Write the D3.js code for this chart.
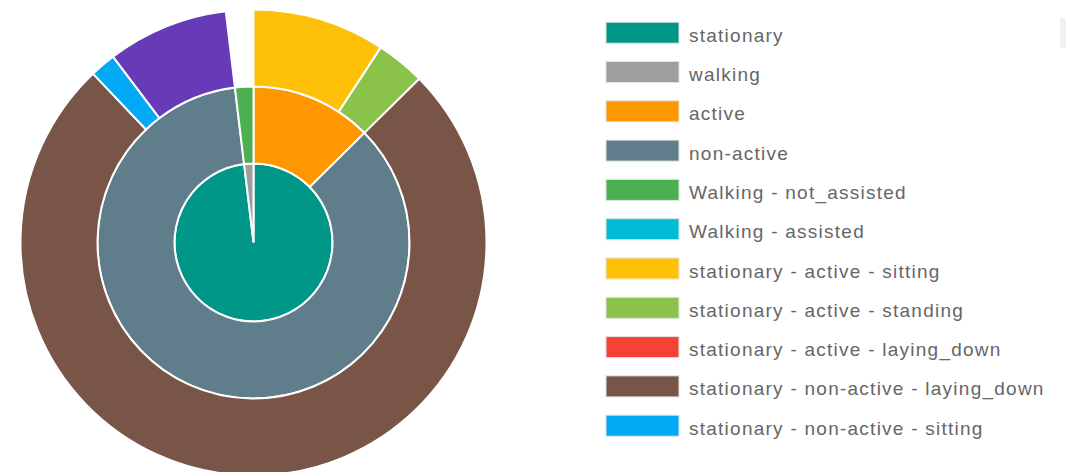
<!DOCTYPE html>
<html>
<head>
<meta charset="utf-8">
<script src="https://cdn.jsdelivr.net/npm/d3@7"></script>
<style>
  html, body { margin: 0; padding: 0; background: #fff; }
  svg { display: block; }
  .legend text { font-family: "Liberation Sans", Arial, sans-serif; font-size: 19px; fill: #666; letter-spacing: 1.25px; }
</style>
</head>
<body>
<svg id="chart" width="1074" height="472"></svg>
<script>
// Activity breakdown: movement -> activity level -> posture (share of time, %)
const groups = ["stationary", "walking"];

const subgroups      = ["active", "non-active", "Walking - not_assisted", "Walking - assisted"];
const subgroupParent = ["stationary", "stationary", "walking", "walking"];
const subgroupValue  = [0, 0, 1.9, 0]; // walking subgroups carry their own share

const postures = [
  "stationary - active - sitting",
  "stationary - active - standing",
  "stationary - active - laying_down",
  "stationary - non-active - laying_down",
  "stationary - non-active - sitting",
  "stationary - non-active - standing"
];
const postureParent = ["active", "active", "active", "non-active", "non-active", "non-active"];
const postureValue  = [9.2, 3.4, 0, 75.3, 1.8, 8.4];

const colorNames = [
  "stationary", "walking", "active", "non-active",
  "Walking - not_assisted", "Walking - assisted",
  "stationary - active - sitting", "stationary - active - standing",
  "stationary - active - laying_down", "stationary - non-active - laying_down",
  "stationary - non-active - sitting", "stationary - non-active - standing"
];
const colorValues = [
  "#009688", "#9E9E9E", "#FF9800", "#607D8B",
  "#4CAF50", "#00BCD4",
  "#FFC107", "#8BC34A",
  "#F44336", "#795548",
  "#03A9F4", "#673AB7"
];

// Rows shown in the legend panel
const legendNames = colorNames.slice(0, 11);

// Build the nested tree from the flat arrays
const tree = { name: "all", children: groups.map(g => ({ name: g, children: [] })) };
const byName = {};
tree.children.forEach(n => byName[n.name] = n);
subgroups.forEach((s, i) => {
  const node = { name: s, children: [], own: subgroupValue[i] };
  byName[s] = node;
  byName[subgroupParent[i]].children.push(node);
});
postures.forEach((p, i) => {
  byName[postureParent[i]].children.push({ name: p, own: postureValue[i] });
});
Object.values(byName).forEach(n => { if (n.children && n.children.length === 0) delete n.children; });

const color = d3.scaleOrdinal().domain(colorNames).range(colorValues);

const root = d3.hierarchy(tree).sum(d => d.own || 0);
d3.partition().size([2 * Math.PI, 3])(root);

const cx = 253.5, cy = 242.5;
const radii = [0, 79, 156, 233];

const arc = d3.arc()
  .startAngle(d => d.x0)
  .endAngle(d => d.x1)
  .innerRadius(d => radii[d.depth - 1])
  .outerRadius(d => radii[d.depth]);

const svg = d3.select("#chart");

svg.append("g")
  .attr("transform", `translate(${cx},${cy})`)
  .selectAll("path")
  .data(root.descendants().filter(d => d.depth > 0 && d.value > 0))
  .join("path")
  .attr("d", arc)
  .attr("fill", d => color(d.data.name))
  .attr("stroke", "#fff")
  .attr("stroke-width", 2);

// Legend panel
const legendX = 606, legendTop = 32.7, rowStep = 39.3;
const legend = svg.append("g").attr("class", "legend");
const rows = legend.selectAll("g")
  .data(legendNames)
  .join("g")
  .attr("transform", (d, i) => `translate(${legendX},${legendTop + i * rowStep})`);

rows.append("rect")
  .attr("x", 0).attr("y", -10.5)
  .attr("width", 73).attr("height", 21)
  .attr("fill", d => color(d))
  .attr("stroke", "#e2e2e2")
  .attr("stroke-width", 1);

rows.append("text")
  .attr("x", 83)
  .attr("y", 9)
  .text(d => d);

// Scroll thumb of the legend panel
svg.append("rect")
  .attr("x", 1060).attr("y", 18)
  .attr("width", 6).attr("height", 30)
  .attr("rx", 2)
  .attr("fill", "#f1f1f1");
</script>
</body>
</html>
